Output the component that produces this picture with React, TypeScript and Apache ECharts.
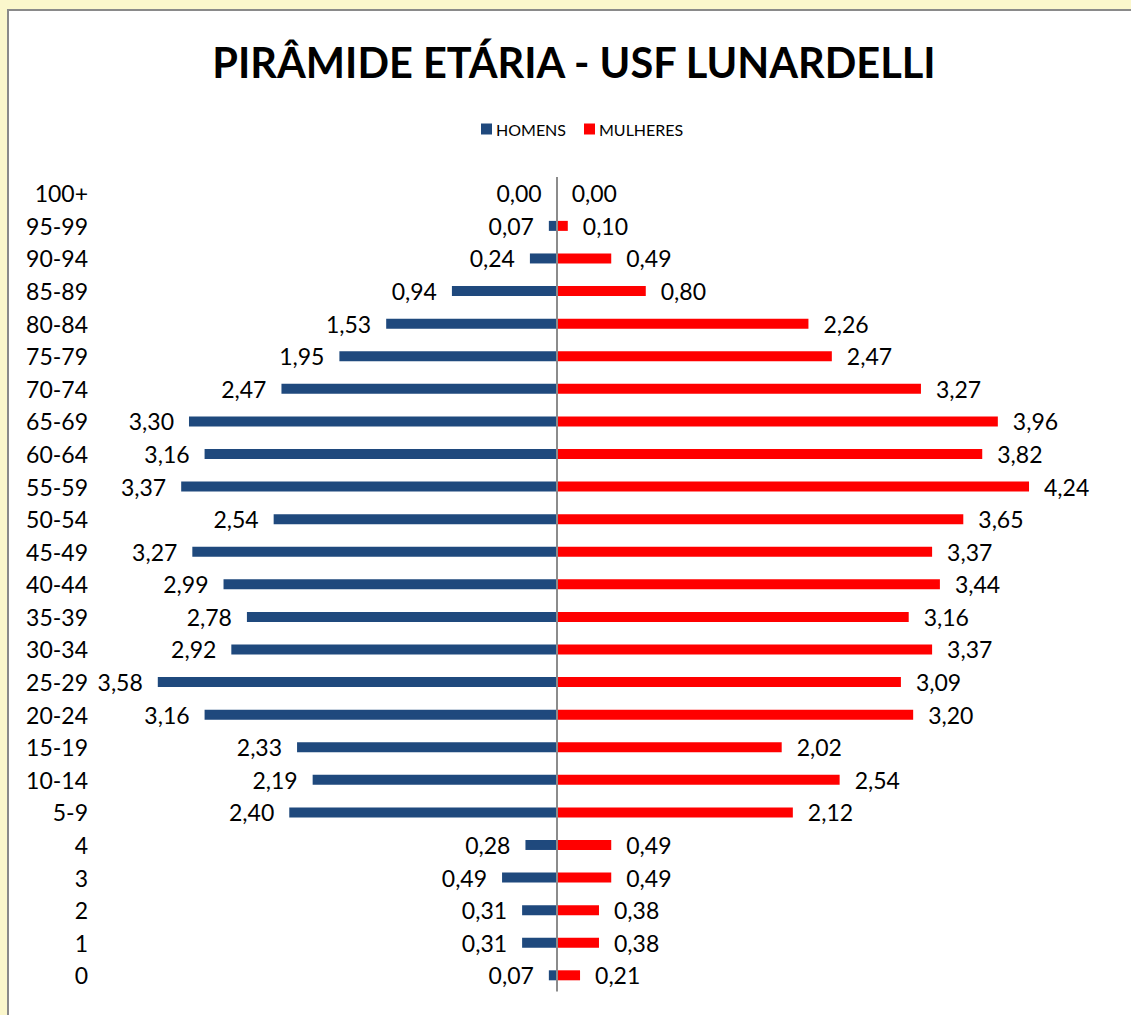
import React, { useEffect, useRef } from "react";
import * as echarts from "echarts";

const ageGroups = ["100+", "95-99", "90-94", "85-89", "80-84", "75-79", "70-74", "65-69", "60-64", "55-59", "50-54", "45-49", "40-44", "35-39", "30-34", "25-29", "20-24", "15-19", "10-14", "5-9", "4", "3", "2", "1", "0"];
const men = [0.0, 0.07, 0.24, 0.94, 1.53, 1.95, 2.47, 3.3, 3.16, 3.37, 2.54, 3.27, 2.99, 2.78, 2.92, 3.58, 3.16, 2.33, 2.19, 2.4, 0.28, 0.49, 0.31, 0.31, 0.07];
const women = [0.0, 0.1, 0.49, 0.8, 2.26, 2.47, 3.27, 3.96, 3.82, 4.24, 3.65, 3.37, 3.44, 3.16, 3.37, 3.09, 3.2, 2.02, 2.54, 2.12, 0.49, 0.49, 0.38, 0.38, 0.21];
const seriesNames = ["HOMENS", "MULHERES"];
const titleText = "PIRÂMIDE ETÁRIA - USF LUNARDELLI";

const FONT = "Lato, 'Open Sans', sans-serif";
const fmt = (p: any) => Math.abs(Number(p.value)).toFixed(2).replace(".", ",");

export default function App() {
  const ref = useRef<HTMLDivElement>(null);
  useEffect(() => {
    if (!ref.current) return;
    const chart = echarts.init(ref.current, null, { renderer: "svg" });
    chart.setOption({
      animation: false,
      backgroundColor: "transparent",
      textStyle: { fontFamily: FONT },
      graphic: [
        {
          type: "text",
          x: 574,
          y: 62,
          style: {
            text: titleText,
            fontFamily: FONT,
            fontWeight: "bold",
            fontSize: 41.5,
            fill: "#000",
            textAlign: "center",
            textVerticalAlign: "middle",
          },
        },
      ],
      legend: {
        data: seriesNames,
        top: 116,
        left: 476,
        itemWidth: 11,
        itemHeight: 11,
        itemGap: 18,
        icon: "rect",
        textStyle: { fontFamily: FONT, fontSize: 16, color: "#000", padding: [0, 0, 0, -1] },
      },
      grid: { left: 111, right: 73, top: 177, bottom: 23.4, containLabel: false },
      xAxis: {
        type: "value",
        min: -4,
        max: 4.5,
        show: false,
        splitLine: { show: false },
      },
      yAxis: {
        type: "category",
        data: ageGroups,
        inverse: true,
        position: "left",
        axisLine: { show: false, onZero: false },
        axisTick: { show: false },
        axisLabel: { color: "#000", fontSize: 23, fontFamily: FONT, margin: 23 },
      },
      series: [
        {
          name: seriesNames[0],
          type: "bar",
          stack: "pop",
          barWidth: 10,
          itemStyle: { color: "#1F497D" },
          data: men.map((v) => -v),
          label: {
            show: true,
            position: "left",
            distance: 15,
            formatter: fmt,
            color: "#000",
            fontSize: 23,
            fontFamily: FONT,
          },
        },
        {
          name: seriesNames[1],
          type: "bar",
          stack: "pop",
          barWidth: 10,
          itemStyle: { color: "#FF0000" },
          data: women,
          label: {
            show: true,
            position: "right",
            distance: 15,
            formatter: fmt,
            color: "#000",
            fontSize: 23,
            fontFamily: FONT,
          },
          markLine: {
            silent: true,
            symbol: "none",
            label: { show: false },
            lineStyle: { color: "#8c8c8c", width: 2, type: "solid" },
            data: [{ xAxis: 0 }],
          },
        },
      ],
    });
    return () => chart.dispose();
  }, []);

  return (
    <div style={{ position: "absolute", left: 0, top: 0, width: 1131, height: 1015, background: "#FBF7CC", overflow: "hidden" }}>
      <div
        style={{
          position: "absolute",
          left: 7,
          top: 9,
          width: 1130,
          height: 1010,
          background: "#fff",
          borderTop: "2px solid #8a8a8a",
          borderLeft: "2px solid #8a8a8a",
        }}
      />
      <div ref={ref} style={{ position: "absolute", left: 0, top: 0, width: 1131, height: 1015 }} />
    </div>
  );
}
